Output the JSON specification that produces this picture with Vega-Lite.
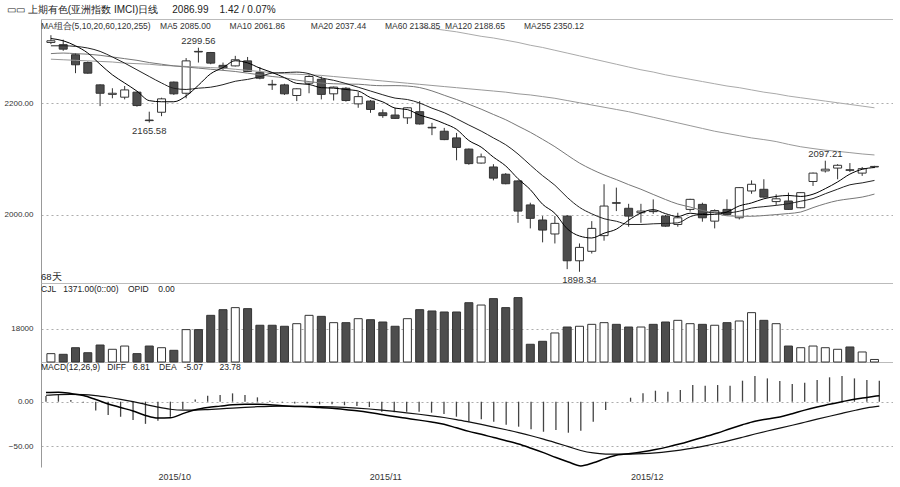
{
"$schema": "https://vega.github.io/schema/vega-lite/v6.json",
"background": "white",
"padding": {"left": 4, "top": 5, "right": 0, "bottom": 0},
"title": {"text": "▭▭ 上期有色(亚洲指数 IMCI)日线\u00a0\u00a0\u00a0\u00a0 2086.99\u00a0\u00a0\u00a0 1.42 / 0.07%", "anchor": "start", "fontSize": 10, "fontWeight": "normal", "color": "#222", "font": "Liberation Sans", "offset": 4, "dx": 3},
"bounds": "flush",
"spacing": 0,
"config": {
  "view": {"stroke": null},
  "axis": {"labelFont": "Liberation Sans", "labelFontSize": 8, "labelColor": "#333", "ticks": false, "labelPadding": 8, "domainColor": "#999", "gridColor": "#999", "gridDash": [2, 3], "gridOpacity": 0.8},
  "title": {"font": "Liberation Sans", "fontWeight": "normal", "color": "#333", "subtitleFont": "Liberation Sans", "subtitleColor": "#222"}
},
"data": {"values": [
{"i":0,"date":"2015-09-18","o":2309,"h":2322,"l":2306,"c":2312,"v":4500,"ma5":2316,"ma10":2303,"ma20":2289,"ma60":2279,"diff":10.5,"dea":7.3,"macd":6.4},
{"i":1,"date":"2015-09-21","o":2305,"h":2314,"l":2294,"c":2297,"v":4150,"ma5":2312,"ma10":2303,"ma20":2290,"ma60":2278,"diff":10.8,"dea":8.0,"macd":7.5},
{"i":2,"date":"2015-09-22","o":2287,"h":2290,"l":2254,"c":2269,"v":7700,"ma5":2303,"ma10":2302,"ma20":2289,"ma60":2277,"diff":9.2,"dea":8.24,"macd":2},
{"i":3,"date":"2015-09-23","o":2273,"h":2275,"l":2253,"c":2254,"v":5000,"ma5":2290,"ma10":2299,"ma20":2288,"ma60":2276,"diff":7,"dea":7.99,"macd":-1},
{"i":4,"date":"2015-09-24","o":2233,"h":2234,"l":2195,"c":2218,"v":9150,"ma5":2270,"ma10":2293,"ma20":2286,"ma60":2275,"diff":2.5,"dea":6.89,"macd":-10},
{"i":5,"date":"2015-09-25","o":2216,"h":2227,"l":2209,"c":2218,"v":6850,"ma5":2251,"ma10":2283,"ma20":2283,"ma60":2274,"diff":-2.5,"dea":5.01,"macd":-15},
{"i":6,"date":"2015-09-28","o":2211,"h":2231,"l":2207,"c":2224,"v":8600,"ma5":2236.4,"ma10":2272,"ma20":2280,"ma60":2272,"diff":-6.5,"dea":2.71,"macd":-17},
{"i":7,"date":"2015-09-29","o":2220,"h":2221,"l":2194,"c":2196,"v":4500,"ma5":2221.8,"ma10":2260,"ma20":2277,"ma60":2271,"diff":-10.5,"dea":0.07,"macd":-20.6},
{"i":8,"date":"2015-09-30","o":2170,"h":2185,"l":2165.58,"c":2169,"v":8600,"ma5":2204.8,"ma10":2248,"ma20":2273,"ma60":2270,"diff":-15.5,"dea":-3.04,"macd":-25,"loNote":"2165.58"},
{"i":9,"date":"2015-10-08","o":2184,"h":2210,"l":2177,"c":2208,"v":7700,"ma5":2202.8,"ma10":2236.4,"ma20":2270,"ma60":2268,"diff":-18.5,"dea":-6.13,"macd":-21.4},
{"i":10,"date":"2015-10-09","o":2238,"h":2239,"l":2215,"c":2217,"v":6300,"ma5":2202.8,"ma10":2226.9,"ma20":2267,"ma60":2267,"diff":-18.2,"dea":-8.54,"macd":-17},
{"i":11,"date":"2015-10-12","o":2218,"h":2281,"l":2209,"c":2276,"v":17450,"ma5":2213.2,"ma10":2224.8,"ma20":2265,"ma60":2266,"diff":-13.5,"dea":-9.53,"macd":-8.6},
{"i":12,"date":"2015-10-13","o":2293,"h":2299.56,"l":2273,"c":2292,"v":17450,"ma5":2232.4,"ma10":2227.1,"ma20":2263,"ma60":2265,"diff":-9,"dea":-9.42,"macd":2.6,"hiNote":"2299.56"},
{"i":13,"date":"2015-10-14","o":2291,"h":2292,"l":2270,"c":2272,"v":25150,"ma5":2253,"ma10":2228.9,"ma20":2261,"ma60":2264,"diff":-6.5,"dea":-8.84,"macd":6.8},
{"i":14,"date":"2015-10-15","o":2268,"h":2273,"l":2260,"c":2263,"v":28200,"ma5":2264,"ma10":2233.4,"ma20":2259,"ma60":2263,"diff":-5,"dea":-8.07,"macd":7.5},
{"i":15,"date":"2015-10-16","o":2267,"h":2285,"l":2266,"c":2278,"v":29300,"ma5":2276.2,"ma10":2239.5,"ma20":2257,"ma60":2261,"diff":-3.5,"dea":-7.16,"macd":9.4},
{"i":16,"date":"2015-10-19","o":2276,"h":2283,"l":2256,"c":2257,"v":28750,"ma5":2272.4,"ma10":2242.8,"ma20":2254,"ma60":2259,"diff":-3,"dea":-6.33,"macd":7.5},
{"i":17,"date":"2015-10-20","o":2255,"h":2265,"l":2243,"c":2245,"v":19800,"ma5":2263,"ma10":2247.7,"ma20":2251,"ma60":2257,"diff":-3,"dea":-5.66,"macd":4.9},
{"i":18,"date":"2015-10-21","o":2234,"h":2242,"l":2224,"c":2233,"v":19800,"ma5":2255.2,"ma10":2254.1,"ma20":2248,"ma60":2255,"diff":-3.5,"dea":-5.23,"macd":1.1},
{"i":19,"date":"2015-10-22","o":2233,"h":2235,"l":2215,"c":2217,"v":19250,"ma5":2246,"ma10":2255,"ma20":2245.7,"ma60":2253,"diff":-4.5,"dea":-5.08,"macd":-1},
{"i":20,"date":"2015-10-23","o":2214,"h":2227,"l":2204,"c":2226,"v":20650,"ma5":2235.6,"ma10":2255.9,"ma20":2241.4,"ma60":2252,"diff":-5.3,"dea":-5.12,"macd":-2},
{"i":21,"date":"2015-10-26","o":2236,"h":2252,"l":2218,"c":2248,"v":25150,"ma5":2233.8,"ma10":2253.1,"ma20":2239,"ma60":2251,"diff":-5.8,"dea":-5.26,"macd":-2},
{"i":22,"date":"2015-10-27","o":2243,"h":2248,"l":2207,"c":2216,"v":24600,"ma5":2228,"ma10":2245.5,"ma20":2236.3,"ma60":2250,"diff":-6.6,"dea":-5.53,"macd":-3},
{"i":23,"date":"2015-10-28","o":2217,"h":2230,"l":2205,"c":2229,"v":21200,"ma5":2227.2,"ma10":2241.2,"ma20":2235,"ma60":2248,"diff":-7.5,"dea":-5.92,"macd":-3},
{"i":24,"date":"2015-10-29","o":2227,"h":2229,"l":2203,"c":2205,"v":21200,"ma5":2224.8,"ma10":2235.4,"ma20":2234.4,"ma60":2246,"diff":-8.8,"dea":-6.5,"macd":-4},
{"i":25,"date":"2015-10-30","o":2199,"h":2220,"l":2192,"c":2212,"v":23350,"ma5":2222,"ma10":2228.8,"ma20":2234.2,"ma60":2244,"diff":-10.3,"dea":-7.26,"macd":-4.9},
{"i":26,"date":"2015-11-02","o":2204,"h":2206,"l":2183,"c":2189,"v":22800,"ma5":2210.2,"ma10":2222,"ma20":2232.4,"ma60":2242,"diff":-12.2,"dea":-8.25,"macd":-6},
{"i":27,"date":"2015-11-03","o":2183,"h":2189,"l":2174,"c":2178,"v":21550,"ma5":2202.6,"ma10":2215.3,"ma20":2231.5,"ma60":2240,"diff":-14.5,"dea":-9.5,"macd":-11.3},
{"i":28,"date":"2015-11-04","o":2179,"h":2192,"l":2172,"c":2173,"v":19250,"ma5":2191.4,"ma10":2209.3,"ma20":2231.7,"ma60":2238,"diff":-16.8,"dea":-10.96,"macd":-12},
{"i":29,"date":"2015-11-05","o":2174,"h":2193,"l":2163,"c":2192,"v":23350,"ma5":2188.8,"ma10":2206.8,"ma20":2230.9,"ma60":2236,"diff":-18.8,"dea":-12.53,"macd":-11.3},
{"i":30,"date":"2015-11-06","o":2185,"h":2204,"l":2162,"c":2163,"v":28200,"ma5":2179,"ma10":2200.5,"ma20":2228.2,"ma60":2234,"ma120":2337,"diff":-20.8,"dea":-14.18,"macd":-11.3},
{"i":31,"date":"2015-11-09","o":2157,"h":2165,"l":2143,"c":2156,"v":27500,"ma5":2172.4,"ma10":2191.3,"ma20":2222.2,"ma60":2232,"ma120":2334,"diff":-23,"dea":-15.94,"macd":-12.4},
{"i":32,"date":"2015-11-10","o":2150,"h":2156,"l":2134,"c":2135,"v":26950,"ma5":2163.8,"ma10":2183.2,"ma20":2214.4,"ma60":2230,"ma120":2331,"diff":-25.5,"dea":-17.85,"macd":-13.9},
{"i":33,"date":"2015-11-11","o":2138,"h":2147,"l":2098,"c":2121,"v":26950,"ma5":2153.4,"ma10":2172.4,"ma20":2206.8,"ma60":2228,"ma120":2328,"diff":-29.5,"dea":-20.18,"macd":-16.9},
{"i":34,"date":"2015-11-12","o":2118,"h":2119,"l":2090,"c":2092,"v":31950,"ma5":2133.4,"ma10":2161.1,"ma20":2198.3,"ma60":2226,"ma120":2324,"diff":-33.5,"dea":-22.84,"macd":-22.6},
{"i":35,"date":"2015-11-13","o":2093,"h":2110,"l":2092,"c":2104,"v":30700,"ma5":2121.6,"ma10":2150.3,"ma20":2189.6,"ma60":2224,"ma120":2320,"diff":-36.8,"dea":-25.64,"macd":-19.9},
{"i":36,"date":"2015-11-16","o":2086,"h":2091,"l":2062,"c":2066,"v":34150,"ma5":2103.6,"ma10":2138,"ma20":2180,"ma60":2222,"ma120":2317,"diff":-40.5,"dea":-28.61,"macd":-22.6},
{"i":37,"date":"2015-11-17","o":2073,"h":2075,"l":2055,"c":2056,"v":29300,"ma5":2087.8,"ma10":2125.8,"ma20":2170.6,"ma60":2220,"ma120":2313,"diff":-44,"dea":-31.68,"macd":-26},
{"i":38,"date":"2015-11-18","o":2061,"h":2062,"l":1986,"c":2007,"v":34700,"ma5":2065,"ma10":2109.2,"ma20":2159.3,"ma60":2217,"ma120":2309,"diff":-47.8,"dea":-34.91,"macd":-28.2},
{"i":39,"date":"2015-11-19","o":2018,"h":2022,"l":1976,"c":1994,"v":9550,"ma5":2045.4,"ma10":2089.4,"ma20":2148.1,"ma60":2215,"ma120":2304,"diff":-52.5,"dea":-38.43,"macd":-31.2},
{"i":40,"date":"2015-11-20","o":1991,"h":1998,"l":1951,"c":1973,"v":11150,"ma5":2019.2,"ma10":2070.4,"ma20":2135.5,"ma60":2212,"ma120":2300,"diff":-57.5,"dea":-42.24,"macd":-33.9},
{"i":41,"date":"2015-11-23","o":1966,"h":1998,"l":1949,"c":1985,"v":15650,"ma5":2003,"ma10":2053.3,"ma20":2122.3,"ma60":2209,"ma120":2295,"diff":-63,"dea":-46.4,"macd":-32},
{"i":42,"date":"2015-11-24","o":1998,"h":2000,"l":1903,"c":1918,"v":18850,"ma5":1975.4,"ma10":2031.6,"ma20":2107.4,"ma60":2205,"ma120":2290,"diff":-68,"dea":-50.72,"macd":-35},
{"i":43,"date":"2015-11-25","o":1918,"h":1949,"l":1898.34,"c":1942,"v":19250,"ma5":1962.4,"ma10":2013.7,"ma20":2093,"ma60":2201,"ma120":2285,"diff":-72.5,"dea":-55.08,"macd":-32.7,"loNote":"1898.34"},
{"i":44,"date":"2015-11-26","o":1935,"h":1989,"l":1931,"c":1976,"v":20300,"ma5":1958.8,"ma10":2002.1,"ma20":2081.6,"ma60":2197,"ma120":2280,"diff":-69,"dea":-57.86,"macd":-22.6},
{"i":45,"date":"2015-11-27","o":1963,"h":2055,"l":1954,"c":2016,"v":21200,"ma5":1967.4,"ma10":1993.3,"ma20":2071.8,"ma60":2193,"ma120":2275,"diff":-64,"dea":-59.1,"macd":-9.4},
{"i":46,"date":"2015-11-30","o":2022,"h":2049,"l":2007,"c":2021,"v":20300,"ma5":1974.6,"ma10":1988.8,"ma20":2063.4,"ma60":2189,"ma120":2270,"diff":-60,"dea":-59.28,"macd":0},
{"i":47,"date":"2015-12-01","o":2012,"h":2020,"l":1979,"c":1998,"v":18850,"ma5":1990.6,"ma10":1983,"ma20":2054.4,"ma60":2185,"ma120":2265,"diff":-58.5,"dea":-59.14,"macd":4.5},
{"i":48,"date":"2015-12-02","o":2004,"h":2020,"l":1986,"c":2007,"v":18850,"ma5":2003.6,"ma10":1983,"ma20":2046.1,"ma60":2180,"ma120":2260,"diff":-56.5,"dea":-58.61,"macd":9.4},
{"i":49,"date":"2015-12-03","o":2007,"h":2028,"l":2002,"c":2006,"v":20300,"ma5":2009.6,"ma10":1984.2,"ma20":2036.8,"ma60":2175,"ma120":2256,"diff":-54,"dea":-57.69,"macd":12.4},
{"i":50,"date":"2015-12-04","o":1998,"h":2000,"l":1979,"c":1980,"v":21550,"ma5":2002.4,"ma10":1984.9,"ma20":2027.7,"ma60":2170,"ma120":2251,"diff":-51,"dea":-56.35,"macd":11.3},
{"i":51,"date":"2015-12-07","o":1983,"h":2004,"l":1979,"c":1995,"v":22450,"ma5":1997.2,"ma10":1985.9,"ma20":2019.6,"ma60":2165,"ma120":2247,"diff":-47.5,"dea":-54.58,"macd":13.2},
{"i":52,"date":"2015-12-08","o":2010,"h":2029,"l":2006,"c":2028,"v":20650,"ma5":2003.2,"ma10":1996.9,"ma20":2014.3,"ma60":2160,"ma120":2243,"diff":-43.5,"dea":-52.36,"macd":18.8},
{"i":53,"date":"2015-12-09","o":2019,"h":2022,"l":1988,"c":1995,"v":20300,"ma5":2000.8,"ma10":2002.2,"ma20":2008,"ma60":2155,"ma120":2239,"diff":-39.5,"dea":-49.79,"macd":18},
{"i":54,"date":"2015-12-10","o":1989,"h":2010,"l":1976,"c":2008,"v":19800,"ma5":2001.2,"ma10":2005.4,"ma20":2003.8,"ma60":2150,"ma120":2235,"diff":-35.3,"dea":-46.89,"macd":18.8},
{"i":55,"date":"2015-12-11","o":2010,"h":2028,"l":2000,"c":2001,"v":21200,"ma5":2005.4,"ma10":2003.9,"ma20":1998.6,"ma60":2146,"ma120":2231,"diff":-30.5,"dea":-43.61,"macd":18},
{"i":56,"date":"2015-12-14","o":1995,"h":2050,"l":1992,"c":2049,"v":22100,"ma5":2016.2,"ma10":2006.7,"ma20":1997.8,"ma60":2142,"ma120":2228,"diff":-26,"dea":-40.09,"macd":23.7},
{"i":57,"date":"2015-12-15","o":2043,"h":2062,"l":2038,"c":2055,"v":26600,"ma5":2021.6,"ma10":2012.4,"ma20":1997.7,"ma60":2138,"ma120":2224,"diff":-22,"dea":-36.47,"macd":29},
{"i":58,"date":"2015-12-16","o":2046,"h":2064,"l":2031,"c":2032,"v":22450,"ma5":2029,"ma10":2014.9,"ma20":1999,"ma60":2135,"ma120":2220,"diff":-19.5,"dea":-33.08,"macd":26.3},
{"i":59,"date":"2015-12-17","o":2024,"h":2037,"l":2018,"c":2029,"v":20650,"ma5":2033.2,"ma10":2017.2,"ma20":2000.7,"ma60":2131.5,"ma120":2217,"diff":-17.2,"dea":-29.9,"macd":23.3},
{"i":60,"date":"2015-12-18","o":2025,"h":2040,"l":2009,"c":2010,"v":8600,"ma5":2035,"ma10":2020.2,"ma20":2002.6,"ma60":2126.5,"ma120":2213,"diff":-13.5,"dea":-26.62,"macd":20},
{"i":61,"date":"2015-12-21","o":2013,"h":2041,"l":2012,"c":2040,"v":7700,"ma5":2033.2,"ma10":2024.7,"ma20":2005.3,"ma60":2122.2,"ma120":2210,"diff":-9.5,"dea":-23.2,"macd":21.4},
{"i":62,"date":"2015-12-22","o":2060,"h":2076,"l":2052,"c":2075,"v":8600,"ma5":2037.2,"ma10":2029.4,"ma20":2013.2,"ma60":2119,"ma120":2207,"diff":-6,"dea":-19.76,"macd":24.5},
{"i":63,"date":"2015-12-23","o":2079,"h":2097.21,"l":2076,"c":2082,"v":7700,"ma5":2047.2,"ma10":2038.1,"ma20":2020.2,"ma60":2116.1,"ma120":2204,"diff":-3,"dea":-16.41,"macd":27.5,"hiNote":"2097.21"},
{"i":64,"date":"2015-12-24","o":2084,"h":2091,"l":2064,"c":2089,"v":6850,"ma5":2059.2,"ma10":2046.2,"ma20":2025.8,"ma60":2114,"ma120":2201,"diff":0,"dea":-13.13,"macd":29},
{"i":65,"date":"2015-12-25","o":2081,"h":2093,"l":2077,"c":2080,"v":8100,"ma5":2073.2,"ma10":2054.1,"ma20":2029,"ma60":2111.7,"ma120":2198,"diff":2.8,"dea":-9.94,"macd":26.3},
{"i":66,"date":"2015-12-28","o":2075,"h":2086,"l":2070,"c":2083,"v":5400,"ma5":2081.8,"ma10":2057.5,"ma20":2032.1,"ma60":2109.3,"ma120":2195,"diff":4.8,"dea":-6.99,"macd":24.5},
{"i":67,"date":"2015-12-29","o":2086,"h":2088,"l":2084,"c":2086.99,"v":1371,"ma5":2085,"ma10":2061.86,"ma20":2037.44,"ma60":2107.5,"ma120":2192,"diff":6.81,"dea":-5.07,"macd":23.78}
]},
"vconcat": [
{
  "width": 852, "height": 264,
  "title": {"text": "MA组合(5,10,20,60,120,255)\u00a0\u00a0\u00a0\u00a0MA5 2085.00\u00a0\u00a0\u00a0\u00a0\u00a0\u00a0\u00a0\u00a0MA10 2061.86\u00a0\u00a0\u00a0\u00a0\u00a0\u00a0\u00a0\u00a0\u00a0\u00a0\u00a0MA20 2037.44\u00a0\u00a0\u00a0\u00a0\u00a0\u00a0\u00a0\u00a0MA60 2138.85\u00a0\u00a0MA120 2188.65\u00a0\u00a0\u00a0\u00a0\u00a0\u00a0\u00a0\u00a0MA255 2350.12", "anchor": "start", "frame": "group", "offset": -11, "fontSize": 8.5, "color": "#333"},
  "layer": [
    {"mark": {"type": "rule", "color": "#333", "strokeWidth": 1},
     "encoding": {
       "x": {"field": "i", "type": "quantitative", "scale": {"domain": [-0.4, 68.1], "nice": false, "zero": false}, "axis": {"orient": "top", "domain": true, "domainColor": "#bbb", "labels": false, "ticks": false, "grid": false, "title": null}},
       "y": {"field": "l", "type": "quantitative", "title": null, "scale": {"domain": [1878.2, 2351], "nice": false, "zero": false}, "axis": {"values": [2000, 2200], "format": ".2f", "grid": true, "title": null}},
       "y2": {"field": "h"}}},
    {"mark": {"type": "bar", "size": 8, "stroke": "#333", "strokeWidth": 1},
     "encoding": {
       "x": {"field": "i", "type": "quantitative", "axis": {"orient": "bottom", "domain": true, "domainColor": "#bbb", "labels": false, "ticks": false, "grid": false, "title": null}},
       "y": {"field": "o", "type": "quantitative", "title": null},
       "y2": {"field": "c"},
       "fill": {"condition": {"test": "datum.c >= datum.o", "value": "white"}, "value": "#4d4d4d"}}},
    {"mark": {"type": "line", "color": "#aaa", "strokeWidth": 1, "interpolate": "monotone", "clip": true},
     "encoding": {"x": {"field": "i", "type": "quantitative", "axis": null}, "y": {"field": "ma120", "type": "quantitative", "title": null}}},
    {"mark": {"type": "line", "color": "#999", "strokeWidth": 1, "interpolate": "monotone", "clip": true},
     "encoding": {"x": {"field": "i", "type": "quantitative", "axis": null}, "y": {"field": "ma60", "type": "quantitative", "title": null}}},
    {"mark": {"type": "line", "color": "#777", "strokeWidth": 1, "interpolate": "monotone", "clip": true},
     "encoding": {"x": {"field": "i", "type": "quantitative", "axis": null}, "y": {"field": "ma20", "type": "quantitative", "title": null}}},
    {"mark": {"type": "line", "color": "#222", "strokeWidth": 1, "interpolate": "monotone", "clip": true},
     "encoding": {"x": {"field": "i", "type": "quantitative", "axis": null}, "y": {"field": "ma10", "type": "quantitative", "title": null}}},
    {"mark": {"type": "line", "color": "#000", "strokeWidth": 1, "interpolate": "monotone", "clip": true},
     "encoding": {"x": {"field": "i", "type": "quantitative", "axis": null}, "y": {"field": "ma5", "type": "quantitative", "title": null}}},
    {"transform": [{"filter": "isValid(datum.hiNote)"}],
     "mark": {"type": "text", "baseline": "bottom", "dy": -2, "fontSize": 9.5, "color": "#333", "font": "Liberation Sans"},
     "encoding": {"x": {"field": "i", "type": "quantitative", "axis": null}, "y": {"field": "h", "type": "quantitative", "title": null}, "text": {"field": "hiNote"}}},
    {"transform": [{"filter": "isValid(datum.loNote)"}],
     "mark": {"type": "text", "baseline": "top", "dy": 3, "fontSize": 9.5, "color": "#333", "font": "Liberation Sans"},
     "encoding": {"x": {"field": "i", "type": "quantitative", "axis": null}, "y": {"field": "l", "type": "quantitative", "title": null}, "text": {"field": "loNote"}}}
  ],
  "resolve": {"axis": {"x": "independent"}}
},
{
  "width": 852, "height": 79,
  "title": {"text": "68天", "subtitle": "CJL\u00a0\u00a0 1371.00(0::00)\u00a0\u00a0\u00a0 OPID\u00a0\u00a0\u00a0 0.00", "anchor": "start", "frame": "group", "offset": -10, "fontSize": 9.5, "subtitleFontSize": 8.5, "subtitlePadding": 3, "color": "#222"},
  "mark": {"type": "bar", "size": 8, "stroke": "#333", "strokeWidth": 1},
  "encoding": {
    "x": {"field": "i", "type": "quantitative", "scale": {"domain": [-0.4, 68.1], "nice": false, "zero": false}, "axis": {"orient": "bottom", "domain": true, "domainColor": "#bbb", "labels": false, "ticks": false, "grid": false, "title": null}},
    "y": {"field": "v", "type": "quantitative", "title": null, "scale": {"domain": [0, 42575], "nice": false}, "axis": {"values": [18000], "format": "d", "grid": true, "title": null}},
    "fill": {"condition": {"test": "datum.c >= datum.o", "value": "white"}, "value": "#4d4d4d"}
  }
},
{
  "width": 852, "height": 105,
  "title": {"text": "MACD(12,26,9)\u00a0\u00a0 DIFF\u00a0\u00a0 6.81\u00a0\u00a0\u00a0 DEA\u00a0\u00a0 -5.07\u00a0\u00a0\u00a0\u00a0\u00a0\u00a0 23.78", "anchor": "start", "frame": "group", "offset": -9, "fontSize": 8.5, "color": "#222"},
  "layer": [
    {"mark": {"type": "rule", "color": "#444", "strokeWidth": 1.3},
     "encoding": {
       "x": {"field": "i", "type": "quantitative", "scale": {"domain": [-0.4, 68.1], "nice": false, "zero": false},
             "axis": {"orient": "bottom", "values": [9, 26, 47], "labelExpr": "datum.value == 9 ? '2015/10' : datum.value == 26 ? '2015/11' : '2015/12'", "labelAlign": "left", "labelFontSize": 9, "labelPadding": 5, "domain": false, "ticks": false, "grid": false, "title": null}},
       "y": {"field": "macd", "type": "quantitative", "title": null, "scale": {"domain": [-73.7, 44.8], "nice": false, "zero": false}, "axis": {"values": [0, -50], "format": ".2f", "grid": true, "title": null}},
       "y2": {"datum": 0}}},
    {"mark": {"type": "line", "color": "#111", "strokeWidth": 1.2, "interpolate": "monotone"},
     "encoding": {"x": {"field": "i", "type": "quantitative"}, "y": {"field": "dea", "type": "quantitative", "title": null}}},
    {"mark": {"type": "line", "color": "#000", "strokeWidth": 1.5, "interpolate": "monotone"},
     "encoding": {"x": {"field": "i", "type": "quantitative"}, "y": {"field": "diff", "type": "quantitative", "title": null}}}
  ]
}
]
}
